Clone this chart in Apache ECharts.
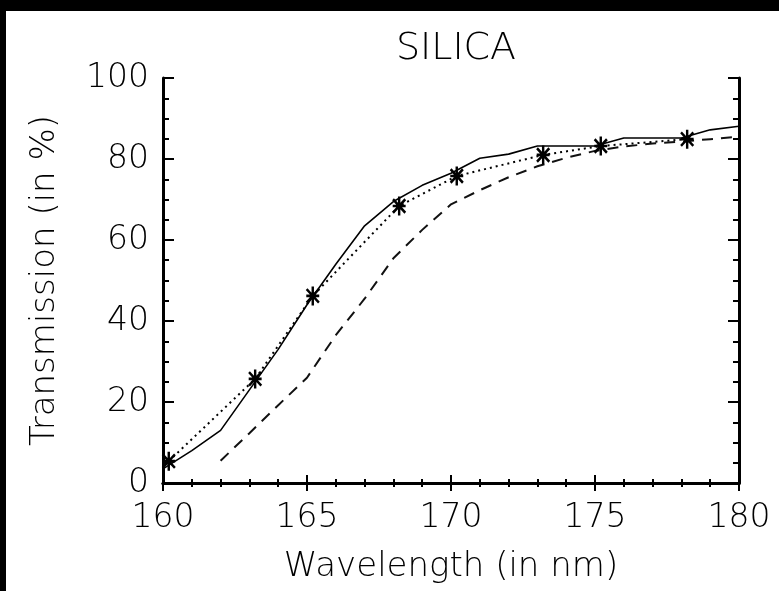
<!DOCTYPE html>
<html>
<head>
<meta charset="utf-8">
<script src="https://cdn.jsdelivr.net/npm/echarts@6/dist/echarts.min.js"></script>
<style>
  html, body { margin: 0; padding: 0; background: #000; width: 779px; height: 591px; overflow: hidden; }
  #chart { position: absolute; left: 6px; top: 11px; width: 773px; height: 580px; background: #fff; }
</style>
</head>
<body>
<div id="chart"></div>
<script>
// ---- data ----
const titleText = 'SILICA';
const xName = 'Wavelength (in nm)';
const yName = 'Transmission (in %)';

const solidX = [160, 161, 162, 163, 164, 165, 166, 167, 168, 169, 170, 171, 172, 173, 174, 175, 176, 177, 178, 179, 180];
const solidY = [3.5, 8, 13, 23, 33, 44, 54, 63.5, 69.5, 73.5, 76.5, 80.2, 81.2, 83.2, 83.2, 83.2, 85.2, 85.2, 85.2, 87.2, 88.1];

const dashedX = [162, 163, 164, 165, 166, 167, 168, 169, 170, 171, 172, 173, 174, 175, 176, 177, 178, 179, 180];
const dashedY = [5.5, 12.3, 19.2, 26, 36.5, 45.5, 55.5, 62.5, 68.8, 72.3, 75.5, 78.2, 80.3, 82, 83.1, 83.8, 84.3, 84.9, 85.5];

const dottedX = [160.2, 163.2, 165.2, 168.2, 170.2, 173.2, 175.2, 178.2];
const dottedY = [5.4, 25.7, 46.2, 68.4, 75.8, 81.0, 83.2, 84.9];

const xTicks = [160, 165, 170, 175, 180];
const yTicks = [0, 20, 40, 60, 80, 100];

// ---- build ----
const zip = (xs, ys) => xs.map((x, i) => [x, ys[i]]);
const FONT = '"DejaVu Sans", sans-serif';
const asterisk = 'path://M8.6 0 L11.4 0 L11.4 20 L8.6 20 Z M2.5 8.6 L17.5 8.6 L17.5 11.4 L2.5 11.4 Z M3.9 1.9 L18.1 16.1 L16.1 18.1 L1.9 3.9 Z M16.1 1.9 L18.1 3.9 L3.9 18.1 L1.9 16.1 Z';

const axisLine = { show: true, lineStyle: { color: '#000', width: 3 } };

const chart = echarts.init(document.getElementById('chart'), null, { renderer: 'canvas' });
chart.setOption({
  backgroundColor: '#fff',
  animation: false,
  title: {
    text: titleText,
    left: 445,
    textAlign: 'center',
    top: 14,
    textStyle: { fontFamily: FONT, fontWeight: 200, fontSize: 38, color: '#000' }
  },
  grid: { left: 157, top: 67, width: 576, height: 405, containLabel: false },
  xAxis: [
    {
      type: 'value', min: xTicks[0], max: xTicks[xTicks.length - 1], interval: 5,
      position: 'bottom',
      name: xName, nameLocation: 'middle', nameGap: 67,
      nameTextStyle: { fontFamily: FONT, fontWeight: 200, fontSize: 34, color: '#000' },
      axisLine: axisLine,
      axisTick: { show: true, inside: true, length: 8, lineStyle: { color: '#000', width: 2 } },
      minorTick: { show: true, splitNumber: 5, length: 4, lineStyle: { color: '#000', width: 2 } },
      axisLabel: { margin: 19, fontFamily: FONT, fontWeight: 200, fontSize: 33, color: '#000' },
      splitLine: { show: false }
    },
    {
      type: 'value', min: xTicks[0], max: xTicks[xTicks.length - 1], interval: 5,
      position: 'top',
      axisLine: axisLine,
      axisTick: { show: true, inside: true, length: 8, lineStyle: { color: '#000', width: 2 } },
      minorTick: { show: true, splitNumber: 5, length: 4, lineStyle: { color: '#000', width: 2 } },
      axisLabel: { show: false },
      splitLine: { show: false }
    }
  ],
  yAxis: [
    {
      type: 'value', min: yTicks[0], max: yTicks[yTicks.length - 1], interval: 20,
      position: 'left',
      name: yName, nameLocation: 'middle', nameGap: 101, nameRotate: 90,
      nameTextStyle: { fontFamily: FONT, fontWeight: 200, fontSize: 34, color: '#000' },
      axisLine: axisLine,
      axisTick: { show: true, inside: true, length: 11, lineStyle: { color: '#000', width: 2 } },
      minorTick: { show: true, splitNumber: 4, length: 6, lineStyle: { color: '#000', width: 2 } },
      axisLabel: { margin: 14, fontFamily: FONT, fontWeight: 200, fontSize: 33, color: '#000' },
      splitLine: { show: false }
    },
    {
      type: 'value', min: yTicks[0], max: yTicks[yTicks.length - 1], interval: 20,
      position: 'right',
      axisLine: axisLine,
      axisTick: { show: true, inside: true, length: 11, lineStyle: { color: '#000', width: 2 } },
      minorTick: { show: true, splitNumber: 4, length: 6, lineStyle: { color: '#000', width: 2 } },
      axisLabel: { show: false },
      splitLine: { show: false }
    }
  ],
  series: [
    {
      type: 'line', name: 'solid', data: zip(solidX, solidY),
      showSymbol: false, symbol: 'none',
      lineStyle: { color: '#000', width: 1.6, type: 'solid' }
    },
    {
      type: 'line', name: 'dashed', data: zip(dashedX, dashedY),
      showSymbol: false, symbol: 'none',
      lineStyle: { color: '#111', width: 2, type: [11, 8] }
    },
    {
      type: 'line', name: 'dotted', data: zip(dottedX, dottedY),
      symbol: asterisk, symbolSize: [14, 19], showSymbol: true,
      itemStyle: { color: '#000' },
      lineStyle: { color: '#000', width: 2, type: [2, 4] }
    }
  ]
});
</script>
</body>
</html>
